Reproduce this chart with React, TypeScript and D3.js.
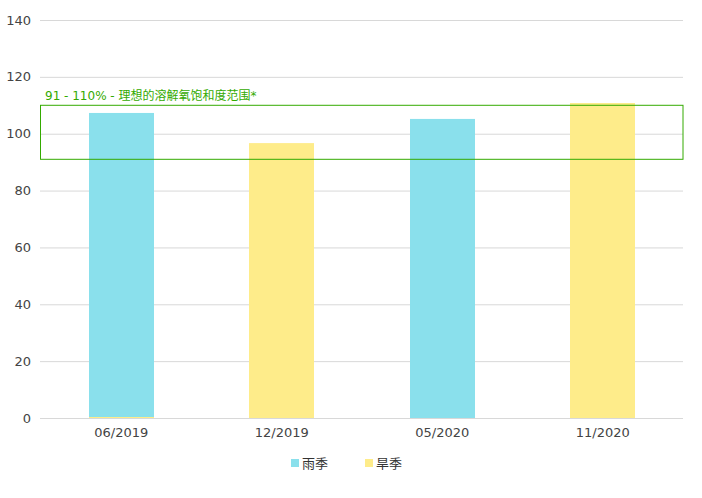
import React from 'react';
import * as d3 from 'd3';

const categories = ['06/2019', '12/2019', '05/2020', '11/2020'];
const rainy: (number | null)[] = [107.3, null, 105.2, null];
const dry: (number | null)[] = [0, 96.7, null, 110.8];
const yTicks = [0, 20, 40, 60, 80, 100, 120, 140];
const band = [91, 110];
const bandLabel = '91 - 110% - 理想的溶解氧饱和度范围*';
const seriesNames = ['雨季', '旱季'];
const colors = ['#8ae0ec', '#feec8a'];

const W = 702;
const H = 498;
const margin = { top: 20, right: 19, bottom: 80, left: 40 };
const font = '"DejaVu Sans", "Noto Sans CJK SC", sans-serif';

const App: React.FC = () => {
  const x = d3.scaleBand<string>()
    .domain(categories)
    .range([margin.left + 1, W - margin.right]);

  const barW = 65;

  const y = d3.scaleLinear()
    .domain([0, 140])
    .range([H - margin.bottom, margin.top]);

  const series = [rainy, dry];

  return (
    <svg width={W} height={H} style={{ position: 'absolute', left: 0, top: 0, fontFamily: font }}>
      {/* grid */}
      {yTicks.map(t => (
        <g key={t}>
          <line x1={margin.left} x2={W - margin.right} y1={y(t) + 0.5} y2={y(t) + 0.5}
            stroke="#d8d8d8" strokeWidth={1} />
          <text x={31} y={y(t)} dy="0.35em" textAnchor="end" fontSize={13} fill="#444">{t}</text>
        </g>
      ))}

      {/* bars */}
      {series.map((vals, si) => vals.map((v, i) => {
        if (v === null) return null;
        const h = Math.max(1, y(0) - y(v));
        const cx = (x(categories[i]) ?? 0) + x.bandwidth() / 2;
        return (
          <rect key={`${si}-${i}`} x={Math.round(cx - barW / 2)} y={y(0) - h}
            width={barW} height={h} fill={colors[si]} />
        );
      }))}

      {/* ideal range band */}
      <rect x={margin.left + 0.5} y={y(band[1])} width={W - margin.right - margin.left - 0.5}
        height={y(band[0]) - y(band[1])} fill="none" stroke="#33aa00" strokeWidth={1} />
      <text x={45} y={y(band[1]) - 5} fontSize={12} fill="#33aa00">{bandLabel}</text>

      {/* x labels */}
      {categories.map(c => (
        <text key={c} x={(x(c) ?? 0) + x.bandwidth() / 2} y={437} textAnchor="middle"
          fontSize={13} fill="#444">{c}</text>
      ))}

      {/* legend */}
      {seriesNames.map((n, i) => (
        <g key={n} transform={`translate(${291 + i * 74},463)`}>
          <rect x={0} y={-4} width={8} height={8} fill={colors[i]} />
          <text x={11} y={0} dy="0.35em" fontSize={13} fill="#333">{n}</text>
        </g>
      ))}
    </svg>
  );
};

export default App;
